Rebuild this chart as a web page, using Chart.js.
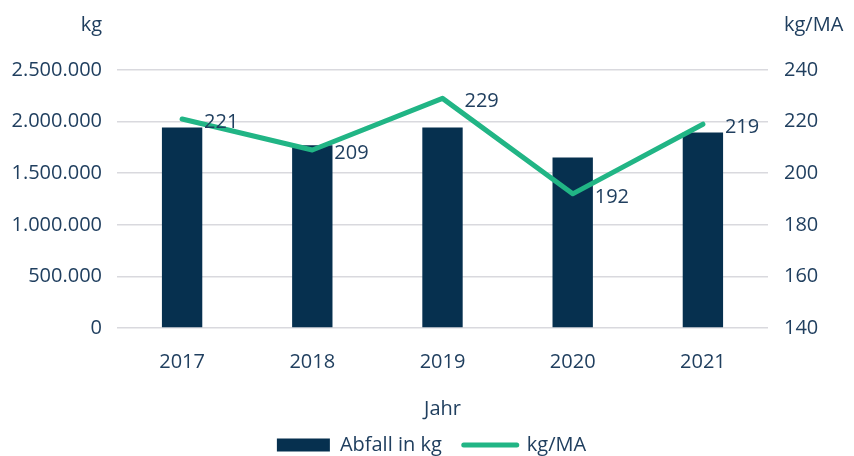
<!DOCTYPE html>
<html>
<head>
<meta charset="utf-8">
<script src="https://cdn.jsdelivr.net/npm/chart.js@4"></script>
<style>
  html, body { margin: 0; padding: 0; background: #fff; }
  canvas { display: block; }
</style>
</head>
<body>
<canvas id="chartAbfall" width="854" height="456"></canvas>
<script>
const jahre = ['2017', '2018', '2019', '2020', '2021'];
const abfallKg = [1943000, 1770000, 1943000, 1651000, 1894000];
const kgProMA = [221, 209, 229, 192, 219];

const textColor = '#203f5f';
const barColor = '#06304f';
const lineColor = '#21b585';
const fontFamily = '"Open Sans", "DejaVu Sans", sans-serif';
const fontSize = 20;
const font = { family: fontFamily, size: fontSize };

const fmt = v => v.toLocaleString('de-DE');

// einheiten oberhalb der beiden y-achsen
const einheitenPlugin = {
    id: 'einheiten',
    afterDraw(chart) {
        const { ctx, scales } = chart;
        ctx.save();
        ctx.font = `${fontSize}px ${fontFamily}`;
        ctx.fillStyle = textColor;
        ctx.textBaseline = 'middle';
        ctx.textAlign = 'right';
        ctx.fillText('kg', scales.y.right - 15, 25);
        ctx.textAlign = 'left';
        ctx.fillText('kg/MA', scales.y2.left + 16, 25);
        ctx.restore();
    }
};

// werte rechts neben den linienpunkten
const wertePlugin = {
    id: 'werte',
    afterDatasetsDraw(chart) {
        const { ctx } = chart;
        const meta = chart.getDatasetMeta(1);
        ctx.save();
        ctx.font = `${fontSize}px ${fontFamily}`;
        ctx.fillStyle = textColor;
        ctx.textAlign = 'left';
        ctx.textBaseline = 'middle';
        meta.data.forEach((pt, i) => {
            ctx.fillText(String(kgProMA[i]), pt.x + 22, pt.y + 3);
        });
        ctx.restore();
    }
};

const ctx = document.getElementById('chartAbfall').getContext('2d');

const chartAbfall = new Chart(ctx, {
    type: 'bar',
    data: {
        labels: jahre,
        datasets: [{
            type: 'bar',
            label: 'Abfall in kg',
            data: abfallKg,
            backgroundColor: barColor,
            yAxisID: 'y',
            barPercentage: 0.31,
            categoryPercentage: 1,
            order: 2
        }, {
            type: 'line',
            label: 'kg/MA',
            data: kgProMA,
            borderColor: lineColor,
            backgroundColor: lineColor,
            borderWidth: 5,
            borderCapStyle: 'round',
            borderJoinStyle: 'round',
            pointRadius: 0,
            tension: 0,
            yAxisID: 'y2',
            order: 1
        }]
    },
    options: {
        responsive: false,
        animation: false,
        layout: { padding: { left: 9, right: 0, top: 70, bottom: -9 } },
        plugins: {
            tooltip: { enabled: false },
            legend: {
                position: 'bottom',
                labels: {
                    color: textColor,
                    font: font,
                    usePointStyle: true,
                    pointStyleWidth: 53,
                    boxHeight: 13,
                    padding: 22,
                    generateLabels(chart) {
                        const items = Chart.defaults.plugins.legend.labels.generateLabels(chart);
                        items.sort((a, b) => a.datasetIndex - b.datasetIndex);
                        items.forEach(it => {
                            if (it.datasetIndex === 0) {
                                it.pointStyle = 'rect';
                                it.fillStyle = barColor;
                                it.strokeStyle = barColor;
                                it.lineWidth = 0;
                            } else {
                                it.pointStyle = 'line';
                                it.strokeStyle = lineColor;
                                it.lineWidth = 5;
                                it.lineCap = 'round';
                            }
                        });
                        return items;
                    }
                }
            }
        },
        scales: {
            x: {
                grid: { display: false },
                border: { display: false },
                ticks: { color: textColor, font: font, padding: 14 },
                title: {
                    display: true,
                    text: 'Jahr',
                    color: textColor,
                    font: font,
                    padding: { top: 9, bottom: -8 }
                }
            },
            y: {
                position: 'left',
                min: 0,
                max: 2500000,
                afterFit: s => { s.width = 108; },
                grid: { color: '#d9d9de', lineWidth: 1.5, drawTicks: false },
                border: { display: false },
                ticks: {
                    stepSize: 500000,
                    color: textColor,
                    font: font,
                    padding: 15,
                    callback: v => fmt(v)
                }
            },
            y2: {
                position: 'right',
                min: 140,
                max: 240,
                afterFit: s => { s.width = 86; },
                grid: { drawOnChartArea: false, drawTicks: false },
                border: { display: false },
                ticks: { stepSize: 20, color: textColor, font: font, padding: 16 }
            }
        }
    },
    plugins: [einheitenPlugin, wertePlugin]
});
</script>
</body>
</html>
